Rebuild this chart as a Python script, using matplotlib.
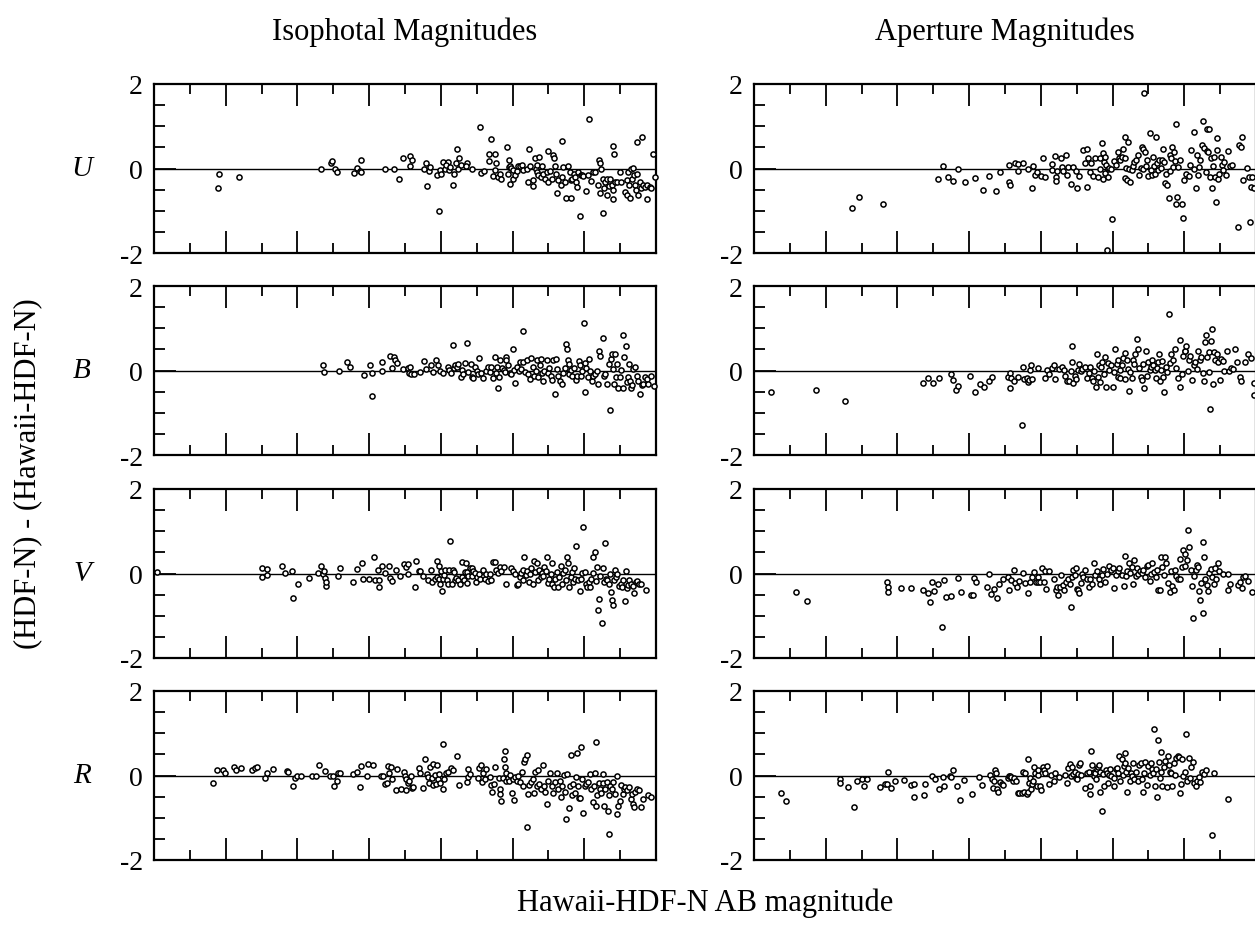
import matplotlib
matplotlib.use("Agg")
import matplotlib.pyplot as plt
from matplotlib.ticker import MultipleLocator

plt.rcParams['font.family'] = ['Liberation Serif', 'DejaVu Serif']

# ---------------- data: (Hawaii-HDF-N AB mag, (HDF-N) - (Hawaii-HDF-N)) ----------------
BANDS = ['U', 'B', 'V', 'R']
COLUMN_TITLES = ['Isophotal Magnitudes', 'Aperture Magnitudes']
Y_TICKS = [-2, 0, 2]
Y_TICK_LABELS = ['-2', '0', '2']

U_ISO = [(13.79,-0.47),(13.82,-0.13),(14.37,-0.21),(16.65,-0.01),(16.95,0.14),(16.96,0.17),(17.06,-0.02),(17.11,-0.09),
(17.57,-0.11),(17.66,0.02),(17.76,0.20),(17.74,-0.05),(17.78,-0.09),(18.44,0.00),(18.69,-0.01),(18.83,-0.25),(18.95,0.26),
(19.14,0.29),(19.13,0.06),(19.20,0.20),(19.53,-0.01),(19.58,0.13),(19.60,-0.42),(19.66,-0.06),(19.69,0.03),(19.90,-0.15),
(19.95,-1.00),(19.97,-0.04),(20.00,-0.14),(20.07,0.16),(20.12,0.00),(20.19,0.16),(20.14,0.08),(20.22,-0.04),(20.25,0.04),
(20.33,-0.39),(20.36,-0.13),(20.42,0.12),(20.44,0.46),(20.48,0.00),(20.51,0.25),(20.55,0.09),(20.72,0.13),(20.70,0.05),
(20.88,-0.02),(21.09,0.98),(21.11,-0.11),(21.20,-0.05),(21.33,0.17),(21.34,0.35),(21.41,0.70),(21.50,0.35),(21.46,-0.18),
(21.53,0.13),(21.52,-0.04),(21.60,-0.19),(21.65,-0.12),(21.68,-0.24),(21.85,0.52),(21.88,-0.12),(21.89,0.03),(21.91,0.19),
(21.92,0.06),(21.94,-0.36),(21.96,0.02),(22.00,-0.24),(22.02,-0.04),(22.06,-0.15),(22.11,-0.06),(22.16,0.06),(22.20,0.05),
(22.25,0.08),(22.30,-0.04),(22.39,0.00),(22.42,-0.33),(22.46,0.45),(22.48,0.06),(22.56,-0.28),(22.58,-0.41),(22.62,0.26),
(22.64,-0.02),(22.67,-0.08),(22.69,0.09),(22.72,-0.16),(22.74,0.27),(22.78,-0.20),(22.81,0.06),(22.85,-0.12),(22.90,-0.24),
(22.95,-0.08),(22.98,0.42),(22.99,-0.31),(23.04,-0.06),(23.09,-0.24),(23.13,0.31),(23.15,0.26),(23.18,0.06),(23.21,-0.12),
(23.25,-0.57),(23.28,-0.28),(23.34,-0.39),(23.37,0.65),(23.39,-0.20),(23.41,0.04),(23.46,-0.33),(23.50,-0.71),(23.55,0.06),
(23.60,-0.08),(23.62,-0.28),(23.64,-0.71),(23.67,-0.24),(23.71,-0.12),(23.74,-0.20),(23.76,-0.31),(23.80,-0.43),(23.83,-0.08),
(23.88,-1.13),(23.90,-0.16),(23.93,-0.16),(23.97,-0.17),(24.06,-0.54),(24.10,-0.16),(24.14,1.17),(24.20,-0.29),(24.25,-0.09),
(24.29,-0.09),(24.39,-0.38),(24.42,0.20),(24.43,0.12),(24.45,-0.57),(24.48,0.00),(24.51,-0.24),(24.53,-1.06),(24.55,-0.47),
(24.57,-0.31),(24.62,-0.24),(24.64,-0.63),(24.69,-0.41),(24.73,-0.24),(24.76,-0.38),(24.79,0.54),(24.79,-0.51),(24.81,-0.72),
(24.82,0.35),(24.85,-0.33),(24.90,-0.31),(24.99,-0.09),(25.01,-0.31),(25.13,-0.55),(25.18,-0.28),(25.20,-0.63),(25.22,-0.08),
(25.24,-0.38),(25.27,-0.71),(25.30,0.00),(25.32,-0.24),(25.36,0.02),(25.38,-0.16),(25.41,-0.38),(25.44,-0.51),(25.46,-0.13),
(25.47,0.63),(25.51,-0.63),(25.55,-0.33),(25.59,-0.47),(25.62,0.75),(25.64,-0.38),(25.69,-0.44),(25.74,-0.72),(25.76,-0.39),
(25.83,-0.44),(25.87,-0.47),(25.92,0.34),(25.97,-0.20)]

U_APER = [(14.74,-0.94),(14.93,-0.67),(15.61,-0.83),(17.14,-0.25),(17.26,0.05),(17.41,-0.20),(17.55,-0.30),(17.68,-0.01),
(17.89,-0.33),(18.17,-0.22),(18.39,-0.50),(18.56,-0.18),(18.76,-0.53),(18.87,-0.09),(19.12,0.09),(19.12,-0.33),(19.13,-0.38),
(19.28,0.12),(19.37,0.11),(19.37,-0.06),(19.51,0.14),(19.63,-0.02),(19.74,-0.47),(19.79,0.06),(19.84,-0.16),(19.89,-0.08),
(20.01,-0.18),(20.05,0.24),(20.12,-0.20),(20.30,0.10),(20.32,-0.03),(20.39,0.30),(20.41,-0.20),(20.43,-0.29),(20.45,-0.06),
(20.56,0.24),(20.59,0.04),(20.61,-0.06),(20.70,0.33),(20.74,-0.16),(20.76,0.04),(20.85,-0.36),(20.89,0.03),(20.99,-0.06),
(21.01,-0.47),(21.07,-0.18),(21.17,0.44),(21.23,0.13),(21.28,0.47),(21.30,-0.44),(21.32,0.26),(21.37,-0.09),(21.39,0.14),
(21.45,-0.18),(21.52,0.24),(21.60,-0.20),(21.64,0.24),(21.66,0.00),(21.70,0.61),(21.72,0.36),(21.74,-0.24),(21.76,0.16),
(21.78,-0.10),(21.80,0.28),(21.82,0.09),(21.84,-1.94),(21.86,-0.20),(21.87,0.00),(21.90,0.02),(21.95,0.00),(21.98,-1.20),
(22.05,0.17),(22.10,0.09),(22.14,0.39),(22.19,0.24),(22.22,0.20),(22.26,0.28),(22.30,0.47),(22.34,0.74),(22.34,0.24),
(22.35,-0.22),(22.38,0.02),(22.39,-0.28),(22.43,0.63),(22.46,-0.02),(22.49,-0.33),(22.53,-0.04),(22.58,0.06),(22.61,0.16),
(22.64,0.20),(22.70,0.33),(22.74,-0.16),(22.78,0.02),(22.82,0.51),(22.84,0.46),(22.86,0.00),(22.89,1.79),(22.91,0.39),
(22.93,0.06),(22.96,0.20),(22.99,-0.17),(23.03,0.83),(23.06,-0.04),(23.09,-0.16),(23.12,0.28),(23.15,0.06),(23.18,-0.14),
(23.20,0.75),(23.25,0.12),(23.28,-0.04),(23.30,0.21),(23.34,0.02),(23.37,0.20),(23.41,0.46),(23.44,0.16),(23.47,-0.34),
(23.49,-0.13),(23.53,-0.38),(23.57,-0.69),(23.59,0.33),(23.61,-0.06),(23.63,0.24),(23.66,0.51),(23.68,0.04),(23.70,0.38),
(23.73,0.17),(23.76,1.06),(23.78,-0.83),(23.80,-0.67),(23.83,0.04),(23.89,0.20),(23.94,-0.85),(23.97,-1.17),(23.99,-0.28),
(24.05,-0.12),(24.12,-0.17),(24.16,0.09),(24.20,0.43),(24.26,0.87),(24.28,0.00),(24.32,-0.45),(24.36,0.33),(24.39,-0.16),
(24.42,0.04),(24.45,0.20),(24.49,0.55),(24.53,1.13),(24.55,0.49),(24.60,-0.08),(24.62,0.41),(24.64,0.94),(24.66,0.38),
(24.69,0.94),(24.72,-0.21),(24.74,0.24),(24.76,-0.45),(24.79,0.06),(24.82,0.28),(24.86,-0.21),(24.88,-0.79),(24.90,0.72),
(24.91,0.43),(24.95,-0.25),(24.98,-0.12),(25.03,0.28),(25.06,0.09),(25.09,-0.04),(25.12,0.16),(25.17,-0.16),(25.22,0.41),
(25.27,0.06),(25.32,0.08),(25.51,-1.38),(25.53,0.55),(25.59,0.51),(25.62,0.75),(25.65,-0.28),(25.75,0.02),(25.80,-0.20),
(25.82,-1.26),(25.85,-0.43),(25.89,-0.20),(25.94,-0.46)]

B_ISO = [(16.70,0.12),(16.75,-0.04),(17.16,-0.02),(17.39,0.19),(17.48,0.08),(17.85,-0.10),(18.02,0.12),(18.07,-0.05),
(18.09,-0.60),(18.35,-0.02),(18.37,0.19),(18.58,0.35),(18.65,0.06),(18.70,0.31),(18.73,0.26),(18.79,0.17),(18.95,0.04),
(19.09,0.06),(19.12,-0.06),(19.14,0.08),(19.18,-0.08),(19.25,-0.08),(19.43,-0.04),(19.53,0.22),(19.58,0.03),(19.72,0.13),
(19.77,-0.04),(19.86,0.24),(19.93,0.12),(19.97,0.00),(20.07,-0.06),(20.19,0.09),(20.22,0.02),(20.27,-0.06),(20.33,0.61),
(20.36,0.06),(20.39,0.14),(20.44,0.09),(20.49,0.16),(20.55,-0.16),(20.58,0.02),(20.62,-0.09),(20.67,0.17),(20.74,0.65),
(20.76,-0.04),(20.83,0.16),(20.86,-0.16),(20.90,-0.17),(20.95,0.09),(21.01,0.00),(21.04,-0.09),(21.07,0.30),(21.11,-0.06),
(21.18,-0.17),(21.27,0.00),(21.32,0.08),(21.37,-0.04),(21.41,0.09),(21.46,-0.17),(21.51,0.33),(21.53,-0.06),(21.57,0.08),
(21.60,-0.41),(21.63,-0.16),(21.65,0.24),(21.70,0.06),(21.76,0.02),(21.79,-0.04),(21.81,0.33),(21.83,0.25),(21.88,0.12),
(21.92,-0.06),(21.97,-0.08),(22.00,0.52),(22.04,0.02),(22.07,-0.30),(22.11,0.08),(22.17,-0.02),(22.20,0.20),(22.24,0.04),
(22.28,0.93),(22.30,0.20),(22.34,-0.04),(22.39,0.24),(22.44,-0.08),(22.48,-0.20),(22.50,0.30),(22.56,0.09),(22.59,-0.12),
(22.65,0.00),(22.67,0.25),(22.72,-0.16),(22.76,0.12),(22.78,0.27),(22.81,-0.06),(22.85,-0.24),(22.89,-0.02),(22.95,0.24),
(22.99,-0.06),(23.02,0.06),(23.06,-0.12),(23.09,-0.22),(23.13,0.25),(23.17,-0.55),(23.21,0.27),(23.25,0.04),(23.27,-0.12),
(23.32,-0.24),(23.37,-0.33),(23.41,-0.06),(23.46,0.06),(23.50,0.63),(23.52,0.50),(23.54,0.26),(23.56,0.16),(23.58,-0.09),
(23.62,0.02),(23.67,-0.12),(23.71,0.06),(23.76,-0.22),(23.80,-0.12),(23.86,0.22),(23.88,0.12),(23.90,-0.12),(23.95,0.00),
(23.99,1.12),(24.01,0.17),(24.03,-0.50),(24.06,0.06),(24.10,-0.16),(24.14,0.27),(24.17,0.00),(24.21,-0.24),(24.25,-0.12),
(24.30,-0.09),(24.36,0.00),(24.39,-0.31),(24.42,0.47),(24.45,0.35),(24.51,0.77),(24.55,-0.14),(24.58,-0.08),(24.64,-0.31),
(24.68,0.16),(24.71,-0.93),(24.75,0.27),(24.77,0.38),(24.79,0.04),(24.82,-0.33),(24.86,0.38),(24.88,-0.16),(24.92,0.16),
(24.94,-0.41),(24.99,-0.16),(25.03,0.02),(25.07,0.83),(25.08,-0.41),(25.12,0.33),(25.16,0.57),(25.18,-0.28),(25.21,-0.16),
(25.25,0.16),(25.27,-0.24),(25.29,-0.41),(25.33,-0.35),(25.36,0.04),(25.41,0.09),(25.46,-0.12),(25.51,-0.24),(25.55,-0.55),
(25.60,-0.35),(25.64,-0.31),(25.69,-0.16),(25.74,-0.20),(25.78,-0.31),(25.87,-0.14),(25.94,-0.36)]

B_APER = [(12.48,-0.52),(13.73,-0.46),(14.53,-0.73),(16.71,-0.30),(16.84,-0.18),(17.00,-0.30),(17.16,-0.18),(17.49,-0.08),
(17.55,-0.22),(17.62,-0.46),(17.69,-0.36),(18.03,-0.14),(18.15,-0.50),(18.30,-0.31),(18.41,-0.38),(18.54,-0.25),(18.64,-0.16),
(19.09,-0.16),(19.13,-0.06),(19.14,-0.42),(19.18,-0.17),(19.26,-0.24),(19.36,-0.16),(19.48,-1.28),(19.50,0.08),(19.53,-0.20),
(19.60,-0.17),(19.63,-0.28),(19.66,-0.22),(19.69,0.02),(19.72,0.14),(19.74,-0.20),(19.93,0.06),(20.11,-0.17),(20.17,0.02),
(20.24,-0.09),(20.30,0.06),(20.38,0.14),(20.39,-0.20),(20.51,0.04),(20.59,0.09),(20.65,0.02),(20.68,-0.12),(20.72,-0.25),
(20.78,-0.24),(20.83,0.00),(20.86,0.59),(20.87,0.20),(20.89,-0.30),(20.94,-0.12),(20.99,-0.20),(21.04,0.02),(21.07,0.16),
(21.11,0.00),(21.16,0.04),(21.23,0.08),(21.28,-0.17),(21.33,-0.06),(21.37,0.09),(21.42,-0.17),(21.45,-0.25),(21.49,-0.02),
(21.55,-0.38),(21.57,0.39),(21.59,-0.16),(21.62,0.12),(21.64,-0.28),(21.68,0.08),(21.71,0.20),(21.76,-0.08),(21.79,0.33),
(21.82,-0.38),(21.86,0.17),(21.90,0.02),(21.95,0.12),(22.00,-0.38),(22.05,-0.04),(22.08,0.50),(22.11,0.16),(22.14,0.25),
(22.16,-0.16),(22.20,0.02),(22.22,-0.17),(22.26,0.12),(22.30,0.30),(22.34,0.41),(22.35,-0.20),(22.39,0.24),(22.43,0.04),
(22.47,-0.49),(22.49,-0.04),(22.53,-0.18),(22.57,0.25),(22.61,0.16),(22.62,0.38),(22.67,0.75),(22.70,0.51),(22.74,0.06),
(22.78,-0.16),(22.82,-0.22),(22.86,0.16),(22.89,-0.41),(22.93,0.46),(22.96,-0.12),(22.99,0.20),(23.03,0.02),(23.07,0.09),
(23.11,0.24),(23.14,0.12),(23.18,0.02),(23.22,-0.17),(23.25,0.06),(23.28,0.20),(23.30,0.39),(23.32,-0.24),(23.34,0.02),
(23.37,0.22),(23.41,-0.16),(23.44,-0.51),(23.49,0.08),(23.53,-0.04),(23.57,1.34),(23.59,0.17),(23.63,0.38),(23.68,0.25),
(23.73,0.51),(23.78,0.06),(23.83,-0.17),(23.87,-0.39),(23.89,0.73),(23.93,-0.08),(23.97,0.35),(24.01,0.46),(24.03,0.47),
(24.05,0.59),(24.09,0.00),(24.12,0.25),(24.16,0.35),(24.21,-0.22),(24.26,0.12),(24.31,0.20),(24.36,0.04),(24.39,0.46),
(24.43,0.24),(24.47,0.31),(24.51,-0.06),(24.55,-0.25),(24.57,0.67),(24.61,0.85),(24.64,0.33),(24.68,0.43),(24.70,-0.04),
(24.72,-0.91),(24.74,0.69),(24.76,0.98),(24.80,-0.33),(24.84,0.43),(24.87,0.24),(24.91,0.39),(24.95,0.20),(24.99,-0.22),
(25.03,0.28),(25.09,0.22),(25.12,0.00),(25.18,0.46),(25.24,-0.02),(25.30,0.06),(25.37,0.04),(25.41,0.51),(25.46,0.20),
(25.56,-0.16),(25.59,-0.25),(25.70,0.20),(25.78,0.38),(25.85,0.30),(25.94,-0.30),(25.95,-0.59)]

V_ISO = [(12.09,0.04),(15.00,0.14),(15.00,-0.08),(15.14,-0.04),(15.16,0.10),(15.58,0.17),(15.65,0.02),(15.84,0.06),
(15.87,-0.57),(16.02,-0.24),(16.33,-0.10),(16.58,0.02),(16.65,0.17),(16.70,-0.02),(16.74,0.06),(16.76,-0.10),(16.79,-0.30),
(16.81,-0.20),(17.13,-0.06),(17.20,0.13),(17.54,-0.21),(17.67,0.11),(17.79,0.25),(17.84,-0.12),(18.00,-0.12),(18.13,0.38),
(18.16,-0.16),(18.26,0.09),(18.28,-0.16),(18.28,-0.32),(18.35,0.17),(18.43,0.02),(18.54,0.17),(18.58,-0.10),(18.64,-0.17),
(18.75,0.08),(18.86,-0.06),(18.97,0.22),(19.04,0.16),(19.08,0.22),(19.09,-0.02),(19.27,-0.31),(19.30,0.30),(19.40,0.06),
(19.43,0.06),(19.49,-0.06),(19.64,-0.16),(19.72,0.09),(19.74,-0.21),(19.83,-0.14),(19.88,-0.09),(19.90,0.30),(19.94,-0.12),
(19.95,0.17),(19.99,-0.24),(20.01,0.06),(20.03,-0.41),(20.05,-0.12),(20.09,-0.04),(20.11,0.08),(20.16,-0.16),(20.21,-0.24),
(20.22,0.09),(20.25,0.76),(20.30,-0.24),(20.35,0.09),(20.36,0.04),(20.39,-0.16),(20.42,-0.10),(20.48,-0.16),(20.53,-0.24),
(20.58,0.27),(20.60,-0.09),(20.64,-0.16),(20.67,0.04),(20.70,0.24),(20.72,-0.22),(20.74,0.04),(20.76,-0.06),(20.81,0.12),
(20.86,-0.06),(20.88,0.14),(20.90,0.06),(20.95,0.02),(20.98,-0.20),(21.01,-0.08),(21.05,0.00),(21.09,-0.12),(21.18,0.09),
(21.23,-0.12),(21.27,0.00),(21.32,-0.17),(21.37,0.00),(21.41,-0.16),(21.46,0.27),(21.51,0.27),(21.55,0.08),(21.60,0.02),
(21.65,0.16),(21.69,0.06),(21.76,0.16),(21.81,-0.26),(21.97,0.12),(22.02,0.06),(22.06,0.00),(22.11,-0.28),(22.16,-0.24),
(22.20,-0.08),(22.23,0.02),(22.28,0.09),(22.30,-0.16),(22.33,0.38),(22.37,-0.04),(22.41,0.06),(22.45,-0.20),(22.48,-0.02),
(22.52,0.12),(22.56,-0.26),(22.59,0.30),(22.63,0.04),(22.67,0.24),(22.71,-0.16),(22.74,0.09),(22.78,-0.09),(22.82,0.02),
(22.85,-0.06),(22.89,0.16),(22.93,0.06),(22.97,0.38),(22.99,-0.22),(23.02,-0.12),(23.06,0.00),(23.09,0.24),(23.11,-0.24),
(23.15,-0.33),(23.19,-0.12),(23.23,0.04),(23.26,-0.31),(23.30,-0.08),(23.34,0.17),(23.37,-0.24),(23.41,0.02),(23.45,0.09),
(23.49,-0.16),(23.52,0.38),(23.54,0.24),(23.58,-0.31),(23.62,-0.08),(23.65,0.04),(23.69,-0.20),(23.71,0.12),(23.75,-0.12),
(23.78,0.65),(23.82,-0.16),(23.88,-0.41),(23.91,-0.14),(23.95,0.02),(23.97,1.09),(24.01,0.04),(24.04,-0.24),(24.08,-0.31),
(24.12,-0.20),(24.16,-0.33),(24.20,-0.12),(24.23,0.02),(24.25,0.39),(24.29,0.51),(24.32,-0.17),(24.36,0.16),(24.39,-0.87),
(24.42,-0.61),(24.45,-0.06),(24.49,-1.18),(24.53,0.12),(24.55,-0.20),(24.58,0.72),(24.60,-0.12),(24.64,-0.16),(24.68,-0.24),
(24.71,0.00),(24.75,-0.43),(24.77,-0.63),(24.79,-0.75),(24.82,-0.16),(24.86,0.08),(24.88,-0.08),(24.92,0.00),(24.97,-0.30),
(25.01,-0.24),(25.05,-0.31),(25.08,-0.16),(25.13,-0.65),(25.16,0.06),(25.18,-0.35),(25.21,-0.28),(25.25,-0.16),(25.29,-0.24),
(25.35,-0.30),(25.38,-0.47),(25.44,-0.20),(25.47,-0.17),(25.53,-0.24),(25.57,-0.24),(25.72,-0.39)]

V_APER = [(13.17,-0.43),(13.47,-0.65),(15.70,-0.20),(15.73,-0.31),(15.75,-0.43),(16.09,-0.35),(16.38,-0.34),(16.71,-0.39),
(16.86,-0.45),(16.92,-0.67),(16.97,-0.20),(17.01,-0.42),(17.14,-0.25),(17.24,-1.26),(17.31,-0.16),(17.36,-0.55),(17.49,-0.53),
(17.68,-0.10),(17.76,-0.43),(18.05,-0.50),(18.12,-0.50),(18.13,-0.11),(18.18,-0.19),(18.51,-0.31),(18.54,-0.02),(18.61,-0.49),
(18.70,-0.36),(18.78,-0.57),(18.84,-0.25),(18.95,-0.13),(19.09,-0.08),(19.12,-0.39),(19.18,-0.16),(19.24,0.09),(19.28,-0.22),
(19.34,-0.31),(19.40,-0.18),(19.50,0.02),(19.55,-0.22),(19.63,-0.47),(19.70,-0.20),(19.76,-0.08),(19.82,0.04),(19.86,-0.20),
(19.91,-0.09),(19.93,-0.20),(19.99,-0.20),(20.03,0.14),(20.08,-0.20),(20.11,0.06),(20.14,-0.36),(20.24,0.06),(20.37,-0.12),
(20.41,-0.38),(20.46,-0.33),(20.49,-0.50),(20.53,-0.31),(20.56,-0.04),(20.61,-0.28),(20.65,-0.39),(20.70,-0.20),(20.75,-0.12),
(20.80,-0.24),(20.85,-0.80),(20.88,-0.09),(20.91,0.09),(20.94,-0.04),(20.99,0.12),(21.02,-0.36),(21.04,-0.39),(21.07,-0.47),
(21.11,-0.22),(21.14,0.00),(21.18,-0.09),(21.23,0.09),(21.28,-0.14),(21.33,-0.31),(21.37,-0.14),(21.42,-0.24),(21.49,0.25),
(21.52,-0.04),(21.57,0.06),(21.62,-0.12),(21.66,-0.24),(21.71,-0.04),(21.74,0.11),(21.78,-0.20),(21.84,0.00),(21.90,0.17),
(21.95,0.08),(22.00,0.12),(22.05,-0.35),(22.10,-0.04),(22.14,0.06),(22.19,0.12),(22.26,-0.04),(22.32,-0.30),(22.34,0.41),
(22.38,-0.06),(22.41,0.06),(22.45,0.24),(22.48,0.02),(22.53,0.16),(22.57,-0.24),(22.61,0.31),(22.64,-0.06),(22.68,0.12),
(22.72,-0.02),(22.77,0.06),(22.82,0.02),(22.86,0.09),(22.91,-0.09),(22.96,0.17),(22.99,0.20),(23.03,-0.17),(23.06,-0.02),
(23.11,0.24),(23.15,0.04),(23.20,-0.08),(23.25,0.09),(23.28,-0.38),(23.32,-0.39),(23.36,0.39),(23.39,0.16),(23.44,-0.04),
(23.47,0.39),(23.49,0.24),(23.54,-0.22),(23.59,-0.43),(23.63,0.06),(23.66,-0.30),(23.70,-0.38),(23.74,0.09),(23.78,-0.06),
(23.83,-0.12),(23.87,-0.14),(23.89,0.35),(23.93,0.16),(23.97,0.55),(24.01,0.17),(24.03,0.46),(24.07,0.31),(24.11,1.02),
(24.14,0.63),(24.18,0.09),(24.22,-0.30),(24.24,-1.06),(24.28,-0.06),(24.32,0.08),(24.36,0.20),(24.39,0.16),(24.41,-0.41),
(24.43,-0.63),(24.47,-0.22),(24.51,-0.93),(24.53,0.75),(24.55,0.38),(24.59,-0.14),(24.62,-0.28),(24.66,-0.41),(24.70,0.02),
(24.74,0.11),(24.78,-0.09),(24.82,-0.24),(24.86,0.12),(24.89,-0.12),(24.93,0.25),(24.98,0.06),(25.08,0.00),(25.22,0.00),
(25.22,-0.38),(25.27,-0.24),(25.51,-0.28),(25.56,-0.20),(25.61,-0.35),(25.65,-0.09),(25.70,-0.06),(25.78,-0.17),(25.89,-0.43)]

R_ISO = [(13.65,-0.18),(13.77,0.13),(13.93,0.14),(13.97,0.06),(14.23,0.20),(14.29,0.13),(14.42,0.17),(14.72,0.13),
(14.82,0.17),(14.88,0.20),(15.09,-0.06),(15.14,0.05),(15.31,0.16),(15.70,0.11),(15.74,0.09),(15.87,-0.24),(15.93,-0.06),
(15.98,0.00),(16.09,-0.02),(16.42,-0.02),(16.52,-0.02),(16.60,0.26),(16.77,0.11),(16.91,-0.02),(16.98,-0.02),(17.02,-0.24),
(17.09,-0.14),(17.13,0.06),(17.20,0.06),(17.56,0.04),(17.65,0.09),(17.74,-0.28),(17.76,0.22),(17.95,-0.02),(17.98,0.28),
(18.10,0.24),(18.32,0.00),(18.39,0.00),(18.44,-0.20),(18.50,-0.17),(18.53,0.22),(18.56,0.06),(18.60,0.20),(18.64,-0.08),
(18.75,-0.35),(18.78,0.16),(18.90,-0.31),(18.97,0.09),(19.00,0.00),(19.03,-0.08),(19.04,-0.35),(19.08,-0.17),(19.12,-0.12),
(19.16,-0.02),(19.20,-0.30),(19.23,-0.28),(19.38,0.17),(19.43,0.06),(19.51,-0.30),(19.56,0.38),(19.60,0.04),(19.65,-0.04),
(19.68,-0.17),(19.71,0.20),(19.74,-0.06),(19.77,-0.22),(19.79,0.28),(19.83,0.02),(19.86,-0.20),(19.90,0.24),(19.93,-0.08),
(19.95,0.04),(19.99,-0.17),(20.05,-0.31),(20.07,0.75),(20.10,-0.09),(20.14,0.06),(20.21,0.09),(20.27,0.17),(20.33,0.12),
(20.46,0.45),(20.51,-0.22),(20.74,-0.16),(20.76,-0.04),(20.77,0.16),(20.81,0.04),(21.04,-0.06),(21.07,0.17),(21.12,0.24),
(21.14,-0.16),(21.18,0.06),(21.23,-0.08),(21.27,0.16),(21.37,-0.04),(21.41,-0.22),(21.44,-0.39),(21.48,-0.20),(21.51,0.19),
(21.63,-0.06),(21.65,-0.33),(21.66,-0.43),(21.69,-0.60),(21.72,-0.06),(21.76,0.38),(21.78,0.20),(21.79,0.57),(21.81,-0.12),
(21.83,0.06),(21.87,-0.06),(21.91,-0.14),(21.94,0.02),(21.98,-0.41),(22.02,-0.08),(22.04,-0.59),(22.06,-0.04),(22.11,-0.12),
(22.16,-0.02),(22.20,-0.16),(22.25,0.08),(22.28,-0.24),(22.32,0.31),(22.34,0.38),(22.39,-1.22),(22.41,0.49),(22.43,-0.43),
(22.46,-0.22),(22.50,-0.16),(22.56,-0.08),(22.59,-0.41),(22.63,0.08),(22.67,-0.24),(22.72,0.14),(22.74,-0.20),(22.78,-0.31),
(22.84,0.26),(22.87,-0.24),(22.91,-0.39),(22.95,-0.67),(22.99,-0.12),(23.04,0.06),(23.09,-0.24),(23.13,-0.41),(23.18,-0.16),
(23.23,0.06),(23.27,-0.31),(23.32,-0.12),(23.36,-0.51),(23.39,-0.24),(23.43,0.02),(23.47,-0.38),(23.50,-1.02),(23.52,0.04),
(23.56,-0.76),(23.60,-0.24),(23.62,0.49),(23.65,-0.47),(23.69,-0.20),(23.73,-0.41),(23.76,-0.04),(23.80,0.54),(23.83,-0.24),
(23.86,-0.54),(23.88,-0.54),(23.90,0.67),(23.93,-0.09),(23.97,-0.89),(24.02,-0.24),(24.06,-0.20),(24.11,-0.16),(24.16,0.04),
(24.20,-0.33),(24.23,-0.63),(24.27,-0.24),(24.30,0.06),(24.32,-0.73),(24.34,0.80),(24.36,-0.47),(24.40,-0.17),(24.43,-0.33),
(24.48,-0.41),(24.51,-0.17),(24.53,0.04),(24.55,-0.72),(24.58,-0.33),(24.62,-0.16),(24.66,-0.85),(24.68,-1.38),(24.69,-0.46),
(24.73,-0.24),(24.77,-0.31),(24.81,-0.16),(24.85,-0.43),(24.90,-0.02),(24.92,-0.91),(24.95,-0.72),(24.99,-0.61),(25.03,-0.22),
(25.07,-0.43),(25.10,-0.31),(25.14,-0.28),(25.18,-0.35),(25.25,-0.28),(25.29,-0.55),(25.32,-0.43),(25.36,-0.67),(25.38,-0.75),
(25.42,-0.38),(25.48,-0.33),(25.53,-0.35),(25.57,-0.75),(25.64,-0.55),(25.78,-0.47),(25.87,-0.50)]

R_APER = [(12.74,-0.41),(12.89,-0.61),(14.39,-0.09),(14.41,-0.18),(14.62,-0.28),(14.80,-0.75),(14.87,-0.13),(15.01,-0.09),
(15.07,-0.24),(15.15,-0.08),(15.51,-0.28),(15.65,-0.20),(15.72,-0.21),(15.75,0.09),(15.81,-0.30),(15.94,-0.14),(16.18,-0.11),
(16.39,-0.22),(16.45,-0.51),(16.47,-0.20),(16.73,-0.46),(16.78,-0.20),(16.97,-0.02),(17.05,-0.09),(17.16,-0.33),(17.26,-0.04),
(17.30,-0.25),(17.46,-0.02),(17.49,-0.04),(17.55,0.14),(17.66,-0.25),(17.74,-0.59),(17.86,-0.11),(18.08,-0.43),(18.28,-0.04),
(18.35,-0.22),(18.59,0.02),(18.63,-0.09),(18.66,-0.30),(18.70,-0.12),(18.73,0.12),(18.76,0.06),(18.78,-0.33),(18.80,-0.38),
(18.87,-0.16),(18.91,-0.20),(18.95,-0.22),(19.09,-0.06),(19.12,0.00),(19.14,-0.02),(19.18,-0.04),(19.22,-0.12),(19.26,-0.06),
(19.32,-0.12),(19.36,-0.41),(19.39,-0.41),(19.47,-0.41),(19.50,0.08),(19.53,-0.39),(19.57,0.06),(19.60,-0.43),(19.63,0.38),
(19.64,-0.38),(19.66,-0.17),(19.69,-0.06),(19.72,-0.33),(19.76,-0.20),(19.79,-0.12),(19.82,0.20),(19.84,0.06),(19.88,-0.24),
(19.91,0.02),(19.93,0.12),(19.98,-0.24),(20.01,-0.35),(20.05,0.20),(20.09,0.14),(20.12,0.06),(20.18,0.22),(20.22,-0.20),
(20.27,0.02),(20.37,-0.14),(20.39,0.06),(20.51,-0.04),(20.68,0.02),(20.72,-0.17),(20.75,0.17),(20.80,0.28),(20.85,0.00),
(20.87,0.20),(20.89,0.04),(20.94,0.09),(20.97,-0.06),(21.01,-0.08),(21.04,0.04),(21.07,0.25),(21.09,0.30),(21.13,0.02),
(21.23,-0.30),(21.28,0.06),(21.33,0.09),(21.36,-0.43),(21.37,-0.24),(21.39,0.59),(21.42,0.24),(21.47,0.09),(21.49,0.00),
(21.52,0.06),(21.55,-0.08),(21.57,0.16),(21.59,0.20),(21.62,0.25),(21.64,0.09),(21.66,-0.39),(21.71,-0.85),(21.74,0.04),
(21.76,-0.25),(21.81,0.12),(21.84,0.06),(21.87,-0.17),(21.90,0.02),(21.93,0.16),(21.97,0.00),(22.03,-0.06),(22.05,-0.24),
(22.10,0.16),(22.12,0.17),(22.16,0.06),(22.19,0.46),(22.22,-0.14),(22.26,0.38),(22.29,0.02),(22.32,0.22),(22.34,0.54),
(22.36,0.30),(22.38,0.09),(22.41,-0.38),(22.43,0.17),(22.48,-0.12),(22.51,0.06),(22.55,0.00),(22.58,0.30),(22.61,-0.08),
(22.64,0.09),(22.70,-0.12),(22.74,0.24),(22.78,0.30),(22.82,-0.09),(22.86,-0.39),(22.89,0.06),(22.91,0.33),(22.95,-0.22),
(22.99,0.22),(23.03,0.02),(23.06,0.30),(23.09,0.16),(23.12,0.06),(23.15,1.09),(23.18,-0.24),(23.22,0.16),(23.25,-0.51),
(23.26,0.83),(23.30,0.33),(23.32,-0.06),(23.34,0.55),(23.36,0.08),(23.39,-0.25),(23.43,0.20),(23.47,0.35),(23.51,-0.28),
(23.54,0.46),(23.57,0.24),(23.59,0.09),(23.62,0.06),(23.66,-0.25),(23.70,0.30),(23.74,0.02),(23.78,0.41),(23.82,0.46),
(23.86,0.43),(23.89,-0.41),(23.91,-0.20),(23.93,0.38),(23.97,0.00),(24.01,0.09),(24.05,0.98),(24.07,-0.12),(24.12,0.41),
(24.16,-0.06),(24.20,0.20),(24.24,0.31),(24.28,-0.17),(24.32,-0.24),(24.36,-0.12),(24.40,-0.04),(24.45,-0.16),(24.50,0.09),
(24.55,0.04),(24.60,0.12),(24.82,0.06),(24.76,-1.42),(25.22,-0.55)]

ISO_DATA = [U_ISO, B_ISO, V_ISO, R_ISO]
APER_DATA = [U_APER, B_APER, V_APER, R_APER]
X_RANGE = (12, 26)
Y_RANGE = (-2, 2)

# ---------------- layout (pixels of a 1255 x 945 canvas) ----------------
W, H = 1255, 945
fig = plt.figure(figsize=(W / 100, H / 100), dpi=100)

COL_LEFT = [154, 754]
ROW_TOP = [85, 287, 490, 692]
AX_W, AX_H = 502, 169
PX = 72 / 100  # points per pixel


def make_axes(left, top):
    return fig.add_axes([left / W, 1 - (top + AX_H) / H, AX_W / W, AX_H / H])


for col, data_col in enumerate([ISO_DATA, APER_DATA]):
    for row, pts in enumerate(data_col):
        ax = make_axes(COL_LEFT[col], ROW_TOP[row])
        xs = [p[0] for p in pts]
        ys = [p[1] for p in pts]
        ax.axhline(0, color='black', lw=1.0, zorder=1)
        ax.plot(xs, ys, linestyle='none', marker='o', ms=3.7, mfc='white',
                mec='black', mew=1.1, zorder=3, clip_on=False)
        ax.set_xlim(*X_RANGE)
        ax.set_ylim(*Y_RANGE)
        ax.xaxis.set_major_locator(MultipleLocator(2))
        ax.xaxis.set_minor_locator(MultipleLocator(1))
        ax.set_yticks(Y_TICKS)
        ax.set_yticklabels(Y_TICK_LABELS)
        ax.yaxis.set_minor_locator(MultipleLocator(0.5))
        ax.tick_params(axis='x', which='both', direction='in', top=True, bottom=True,
                       labelbottom=False, width=1.3)
        ax.tick_params(axis='x', which='major', length=22 * PX)
        ax.tick_params(axis='x', which='minor', length=10 * PX)
        ax.tick_params(axis='y', which='both', direction='in', left=True, right=False,
                       width=1.3, labelsize=20, pad=8)
        ax.tick_params(axis='y', which='major', length=22 * PX)
        ax.tick_params(axis='y', which='minor', length=11 * PX)
        for s in ax.spines.values():
            s.set_linewidth(1.6)
        if col == 0:
            fig.text(82 / W, 1 - (ROW_TOP[row] + AX_H / 2) / H, BANDS[row],
                     fontsize=21, fontstyle='italic', ha='center', va='center')

fig.text(405 / W, 1 - 32 / H, COLUMN_TITLES[0], fontsize=22, ha='center', va='center')
fig.text(1005 / W, 1 - 32 / H, COLUMN_TITLES[1], fontsize=22, ha='center', va='center')
fig.text(28 / W, 1 - 474 / H, '(HDF-N) - (Hawaii-HDF-N)', fontsize=22, rotation=90,
         ha='center', va='center')
fig.text(705 / W, 1 - 903 / H, 'Hawaii-HDF-N AB magnitude', fontsize=22,
         ha='center', va='center')

fig.savefig('out.png', dpi=100)
